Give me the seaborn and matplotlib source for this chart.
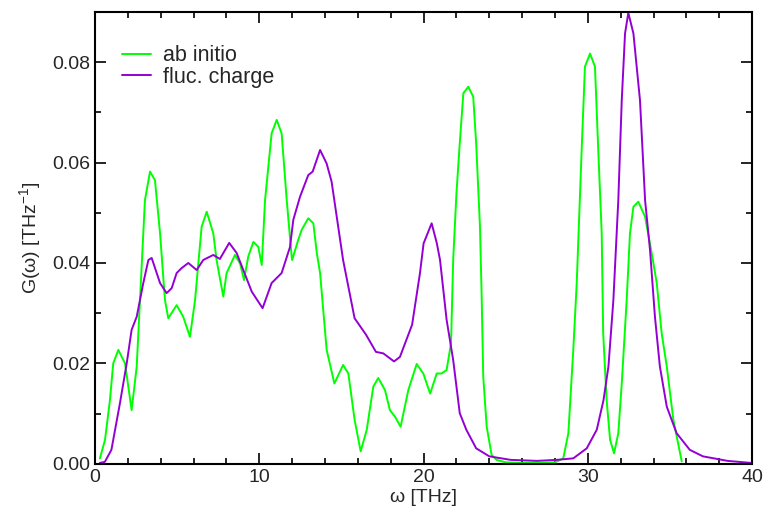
import numpy as np
import pandas as pd
import matplotlib
matplotlib.use("Agg")
import matplotlib.pyplot as plt
import seaborn as sns
from matplotlib.ticker import MultipleLocator

# ab initio
ab_x = [0.3, 0.61, 0.91, 1.11, 1.42, 1.83, 2.23, 2.54, 2.84, 3.04, 3.35, 3.65, 3.96, 4.26, 4.46,
        4.97, 5.37, 5.78, 6.09, 6.49, 6.8, 7.2, 7.4, 7.81, 8.01, 8.52, 8.83, 9.07, 9.33, 9.64,
        9.94, 10.15, 10.35, 10.75, 11.06, 11.36, 11.67, 11.97, 12.0, 12.37, 12.58, 12.98, 13.29,
        13.5, 13.7, 14.1, 14.57, 15.1, 15.42, 15.8, 16.17, 16.54, 16.94, 17.24, 17.65, 17.95,
        18.26, 18.6, 19.07, 19.58, 19.98, 20.4, 20.8, 21.1, 21.4, 21.67, 21.8, 22.0, 22.2, 22.42,
        22.72, 23.02, 23.2, 23.43, 23.53, 23.63, 23.84, 24.14, 24.45, 25.0, 26.0, 27.0, 28.0,
        28.5, 28.81, 29.11, 29.32, 29.62, 29.82, 30.13, 30.43, 30.63, 30.84, 30.93, 31.14, 31.35,
        31.59, 31.85, 32.06, 32.36, 32.56, 32.77, 33.07, 33.48, 33.88, 34.19, 34.49, 34.8, 35.2,
        35.71]
ab_y = [0.0011, 0.0048, 0.0127, 0.02, 0.0227, 0.02, 0.0107, 0.0194, 0.0393, 0.0525, 0.0582,
        0.0565, 0.0459, 0.0326, 0.029, 0.0316, 0.0293, 0.0253, 0.0326, 0.0472, 0.0502, 0.0459,
        0.0406, 0.0333, 0.038, 0.0416, 0.0399, 0.0366, 0.0413, 0.0442, 0.0432, 0.0396, 0.0525,
        0.0658, 0.0685, 0.0658, 0.0525, 0.0413, 0.0406, 0.0446, 0.0466, 0.0489, 0.0479, 0.042,
        0.038, 0.0227, 0.016, 0.0197, 0.018, 0.0088, 0.0025, 0.0068, 0.0154, 0.0171, 0.0147,
        0.0107, 0.0094, 0.0074, 0.0147, 0.0199, 0.018, 0.014, 0.018, 0.018, 0.0187, 0.024,
        0.0406, 0.0539, 0.0638, 0.0738, 0.0751, 0.0731, 0.0638, 0.0473, 0.034, 0.0174, 0.0074,
        0.0018, 0.0008, 0.0003, 0.0002, 0.0002, 0.0003, 0.0011, 0.0061, 0.0227, 0.036, 0.0625,
        0.0791, 0.0817, 0.0791, 0.0625, 0.0459, 0.026, 0.0127, 0.0048, 0.0021, 0.0061, 0.016,
        0.0326, 0.0459, 0.0512, 0.0522, 0.0492, 0.042, 0.036, 0.026, 0.0194, 0.0088, 0.0005]

# fluctuating charge
fc_x = [0.3, 0.6, 1.0, 1.52, 1.93, 2.23, 2.54, 2.94, 3.25, 3.45, 3.96, 4.36, 4.67, 4.97, 5.28,
        5.68, 6.19, 6.59, 7.2, 7.6, 8.17, 8.62, 9.54, 10.2, 10.75, 11.36, 11.87, 12.07, 12.48,
        12.98, 13.25, 13.7, 14.1, 14.4, 15.1, 15.8, 16.5, 17.1, 17.55, 18.2, 18.56, 19.3, 19.78,
        20.0, 20.49, 20.8, 21.0, 21.4, 21.8, 22.2, 22.6, 23.2, 24.0, 25.3, 26.9, 28.1, 29.11,
        29.93, 30.54, 30.95, 31.25, 31.55, 31.85, 32.06, 32.26, 32.46, 32.77, 33.17, 33.48, 33.78,
        34.08, 34.38, 34.8, 35.4, 36.2, 37.0, 38.5, 39.9]
fc_y = [0.0002, 0.0004, 0.0028, 0.0121, 0.02, 0.0267, 0.0293, 0.036, 0.0406, 0.041, 0.036,
        0.034, 0.035, 0.038, 0.039, 0.040, 0.0386, 0.0406, 0.0416, 0.0408, 0.044, 0.042, 0.0343,
        0.031, 0.036, 0.038, 0.0432, 0.0486, 0.0532, 0.0575, 0.0582, 0.0625, 0.0598, 0.0562,
        0.0406, 0.029, 0.0257, 0.0223, 0.022, 0.0204, 0.0213, 0.0277, 0.038, 0.0439, 0.0479,
        0.0440, 0.0406, 0.0287, 0.0207, 0.0101, 0.0068, 0.0031, 0.0015, 0.0008, 0.0006, 0.0008,
        0.0011, 0.0031, 0.0068, 0.0127, 0.0194, 0.0326, 0.0525, 0.0724, 0.0857, 0.0898, 0.0857,
        0.0724, 0.0525, 0.0426, 0.0293, 0.0194, 0.0114, 0.0061, 0.0028, 0.0015, 0.0006, 0.0002]

series_names = ["ab initio", "fluc. charge"]
colors = ["#00ff00", "#9400d3"]
x_ticks = [0, 10, 20, 30, 40]
y_ticks = [0.00, 0.02, 0.04, 0.06, 0.08]

df = pd.concat([
    pd.DataFrame({"w": ab_x, "G": ab_y, "series": series_names[0]}),
    pd.DataFrame({"w": fc_x, "G": fc_y, "series": series_names[1]}),
])

sns.set_style("white")
plt.rcParams["font.family"] = ["Liberation Sans", "DejaVu Sans"]

fig = plt.figure(figsize=(7.66, 5.16), dpi=100)
ax = fig.add_axes([0.124, 0.101, 0.858, 0.876])
sns.lineplot(data=df, x="w", y="G", hue="series", palette=colors, estimator=None,
             sort=False, linewidth=1.4, ax=ax)

ax.set_xlim(0, 40)
ax.set_ylim(0, 0.09)
ax.set_xticks(x_ticks)
ax.set_xticklabels([str(t) for t in x_ticks])
ax.set_yticks(y_ticks)
ax.set_yticklabels([f"{t:.2f}" for t in y_ticks])
ax.xaxis.set_minor_locator(MultipleLocator(2))
ax.yaxis.set_minor_locator(MultipleLocator(0.01))
ax.tick_params(which="both", direction="in", top=True, right=True, bottom=True, left=True,
               color="black", width=1.2, labelsize=14)
ax.tick_params(which="major", length=8)
ax.tick_params(which="minor", length=4)
for s in ax.spines.values():
    s.set_color("black")
    s.set_linewidth(1.5)
ax.set_xlabel("ω [THz]", fontsize=14, labelpad=2)
ax.set_ylabel("G(ω) [THz$^{\\mathregular{-1}}$]", fontsize=14, labelpad=6)

leg = ax.legend(loc="upper left", frameon=False, fontsize=15.5, handlelength=1.35,
                handletextpad=0.55, labelspacing=0.02, borderaxespad=0.0,
                bbox_to_anchor=(0.028, 0.945))

fig.savefig("out.png", dpi=100)
